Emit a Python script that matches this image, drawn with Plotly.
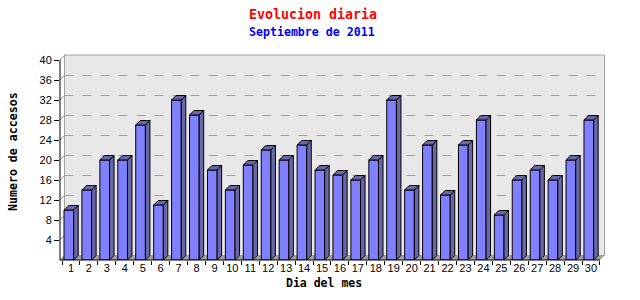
import plotly.graph_objects as go

# ---------------- data ----------------
days = list(range(1, 31))
day_labels = [str(d) for d in days]
accesos = [10, 14, 20, 20, 27, 11, 32, 29, 18, 14,
           19, 22, 20, 23, 18, 17, 16, 20, 32, 14,
           23, 13, 23, 28, 9, 16, 18, 16, 20, 28]
y_ticks = [4, 8, 12, 16, 20, 24, 28, 32, 36, 40]

title_text = "Evolucion diaria"
subtitle_text = "Septiembre de 2011"
x_title = "Dia del mes"
y_title = "Numero de accesos"

# ---------------- geometry / style ----------------
W, H = 640, 300
ML, MR, MT, MB = 60, 40, 55, 40
PW, PH = W - ML - MR, H - MT - MB          # 540 x 205
Y_MAX = 41.0
px_per_cat = 17.93
x0 = 1 - 11 / px_per_cat
x_range = [x0, x0 + PW / px_per_cat]
DEPTH = 4.5                                  # 3D depth in px
dx = DEPTH / px_per_cat
dy = DEPTH * Y_MAX / PH

FRONT = "#8080ff"
SIDE = "#6868a8"
BAR_LEFT = -0.39
BAR_W = 0.54

mono = "DejaVu Sans Mono"

fig = go.Figure()

# front faces
fig.add_trace(go.Bar(
    x=days, y=accesos, offset=BAR_LEFT, width=BAR_W,
    marker=dict(color=FRONT, line=dict(color="black", width=1)),
    hoverinfo="skip", showlegend=False,
))

# side and top faces (built from data)
sx, sy, tx, ty = [], [], [], []
for d, v in zip(days, accesos):
    l = d + BAR_LEFT
    r = l + BAR_W
    sx += [r, r + dx, r + dx, r, r, None]
    sy += [0, dy, v + dy, v, 0, None]
    tx += [l, l + dx, r + dx, r, l, None]
    ty += [v, v + dy, v + dy, v, v, None]
for X, Y in ((sx, sy), (tx, ty)):
    fig.add_trace(go.Scatter(
        x=X, y=Y, mode="lines", fill="toself", fillcolor=SIDE,
        line=dict(color="black", width=1), hoverinfo="skip",
        showlegend=False,
    ))

def px2paper_x(p):
    return (p - ML) / PW

def px2paper_y(p):
    return (MT + PH - p) / PH

shapes = []
wx0 = DEPTH / PW
wx1 = 1 + DEPTH / PW
wy0 = DEPTH / PH
# back wall
shapes.append(dict(type="rect", xref="paper", yref="paper", x0=wx0, x1=wx1,
                   y0=wy0, y1=1, fillcolor="#e8e8e8",
                   line=dict(color="#a0a0a0", width=1), layer="below"))
# floor
shapes.append(dict(type="path", xref="paper", yref="paper",
                   path=f"M 0 0 L 1 0 L {wx1} {wy0} L {wx0} {wy0} Z",
                   fillcolor="#a0a0a0", line=dict(width=0), layer="below"))
# grid lines on back wall and left-wall diagonals
for v in [0] + y_ticks:
    yp = v / Y_MAX
    ypb = (v + dy) / Y_MAX
    if 0 < v < 40:
        shapes.append(dict(type="line", xref="paper", yref="paper",
                           x0=wx0, x1=wx1, y0=ypb, y1=ypb,
                           line=dict(color="#a0a0a0", width=1, dash="dash"),
                           layer="below"))
    shapes.append(dict(type="line", xref="paper", yref="paper",
                       x0=0, x1=wx0, y0=yp, y1=ypb,
                       line=dict(color="#a0a0a0", width=1), layer="below"))
# axis lines
shapes.append(dict(type="line", xref="paper", yref="paper", x0=0, x1=0,
                   y0=0, y1=40 / Y_MAX, line=dict(color="black", width=1)))
shapes.append(dict(type="line", xref="paper", yref="paper", x0=0, x1=1,
                   y0=0, y1=0, line=dict(color="black", width=1)))

annotations = [
    dict(text=f"<b>{title_text}</b>", xref="paper", yref="paper",
         x=px2paper_x(313), y=px2paper_y(14), showarrow=False,
         font=dict(family=mono, size=13.3, color="#ff0000"),
         xanchor="center", yanchor="middle"),
    dict(text=f"<b>{subtitle_text}</b>", xref="paper", yref="paper",
         x=px2paper_x(312), y=px2paper_y(32), showarrow=False,
         font=dict(family=mono, size=11.6, color="#0000ff"),
         xanchor="center", yanchor="middle"),
    dict(text=f"<b>{x_title}</b>", xref="paper", yref="paper",
         x=px2paper_x(324), y=px2paper_y(283), showarrow=False,
         font=dict(family=mono, size=11.5, color="black"),
         xanchor="center", yanchor="middle"),
    dict(text=f"<b>{y_title}</b>", xref="paper", yref="paper",
         x=px2paper_x(13), y=px2paper_y(152), showarrow=False,
         textangle=-90,
         font=dict(family=mono, size=11.6, color="black"),
         xanchor="center", yanchor="middle"),
]

tick_font = dict(family="Liberation Sans", size=11, color="black")

fig.update_layout(
    width=W, height=H,
    margin=dict(l=ML, r=MR, t=MT, b=MB, pad=0),
    paper_bgcolor="white", plot_bgcolor="white",
    shapes=shapes, annotations=annotations,
    showlegend=False,
    xaxis=dict(
        range=x_range, tickmode="array", tickvals=days, ticktext=day_labels,
        ticks="", ticklen=0,
        showgrid=False, zeroline=False, showline=False,
        tickfont=tick_font, fixedrange=True,
        minor=dict(tickmode="linear", tick0=0.5, dtick=1, ticks="outside",
                   ticklen=4, tickcolor="black", showgrid=False),
    ),
    yaxis=dict(
        range=[0, Y_MAX], tickmode="array", tickvals=y_ticks,
        ticks="outside", ticklen=5, tickcolor="black",
        showgrid=False, zeroline=False, showline=False,
        tickfont=tick_font, fixedrange=True,
    ),
)

fig.write_html("out.html")
